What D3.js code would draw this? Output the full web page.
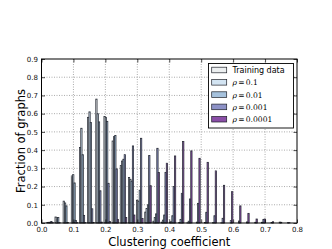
<!DOCTYPE html>
<html>
<head>
<meta charset="utf-8">
<script src="https://cdn.jsdelivr.net/npm/d3@7"></script>
<style>
  html, body { margin: 0; padding: 0; background: #fff; }
  svg { display: block; font-family: "DejaVu Sans", sans-serif; }
</style>
</head>
<body>
<div id="chart"></div>
<script>
// histogram bins (clustering coefficient), one group of five bars per bin
const binStart = -0.0115;
const binWidth = 0.02555;

const seriesNames = ["Training data", "\u03c1 = 0.1", "\u03c1 = 0.01", "\u03c1 = 0.001", "\u03c1 = 0.0001"];
const seriesColors = ["#eceff0", "#d3e4f2", "#a6c2dd", "#8c91c6", "#8a4ea7"];

// fraction of graphs per bin
const training = [0, 0.003, 0.033, 0.12, 0.258, 0.415, 0.58, 0.68, 0.585, 0.45, 0.315, 0.25, 0.125, 0.06, 0.01, 0.005,
                  0.002, 0, 0, 0, 0, 0, 0, 0, 0, 0, 0, 0, 0, 0, 0, 0];
const rho1 = [0, 0.004, 0.028, 0.11, 0.265, 0.52, 0.61, 0.60, 0.58, 0.474, 0.34, 0.24, 0.12, 0.08, 0.03, 0.016,
              0.007, 0.003, 0.001, 0, 0, 0, 0, 0, 0, 0, 0, 0, 0, 0, 0, 0];
const rho2 = [0, 0.004, 0.03, 0.094, 0.22, 0.375, 0.552, 0.555, 0.558, 0.48, 0.35, 0.23, 0.18, 0.1, 0.05, 0.044,
              0.04, 0.02, 0.01, 0.005, 0.003, 0.002, 0.001, 0, 0, 0, 0, 0.004, 0, 0, 0, 0];
const rho3 = [0, 0.008, 0.002, 0.003, 0.014, 0.042, 0.078, 0.177, 0.218, 0.297, 0.375, 0.423, 0.465, 0.37, 0.41, 0.278,
              0.2, 0.163, 0.132, 0.108, 0.059, 0.04, 0.026, 0.013, 0.011, 0.006, 0.004, 0.02, 0.003, 0.005, 0.002, 0];
const rho4 = [0, 0.002, 0, 0, 0.002, 0.002, 0.003, 0.005, 0.008, 0.02, 0.03, 0.044, 0.025, 0.205, 0.277, 0.328,
              0.368, 0.447, 0.396, 0.355, 0.333, 0.286, 0.207, 0.172, 0.094, 0.053, 0.022, 0.022, 0.007, 0.004, 0.002, 0];

const series = [training, rho1, rho2, rho3, rho4];
const xTicks = [0, 0.1, 0.2, 0.3, 0.4, 0.5, 0.6, 0.7, 0.8];
const yTicks = [0, 0.1, 0.2, 0.3, 0.4, 0.5, 0.6, 0.7, 0.8, 0.9];

const W = 332, H = 249;
const plot = { left: 41.5, right: 297, top: 59, bottom: 223 };

const x = d3.scaleLinear().domain([0, 0.8]).range([plot.left, plot.right]);
const y = d3.scaleLinear().domain([0, 0.9]).range([plot.bottom, plot.top]);

const svg = d3.select('#chart').append('svg')
    .attr('width', W)
    .attr('height', H);

// grid
const grid = svg.append('g').attr('class', 'grid');
grid.selectAll('.gx')
    .data(xTicks.slice(1, -1))
    .enter().append('line')
      .attr('x1', d => x(d)).attr('x2', d => x(d))
      .attr('y1', plot.top).attr('y2', plot.bottom)
      .attr('stroke', '#888').attr('stroke-width', 0.7)
      .attr('stroke-dasharray', '1,1.5');
grid.selectAll('.gy')
    .data(yTicks.slice(1, -1))
    .enter().append('line')
      .attr('x1', plot.left).attr('x2', plot.right)
      .attr('y1', d => y(d)).attr('y2', d => y(d))
      .attr('stroke', '#888').attr('stroke-width', 0.7)
      .attr('stroke-dasharray', '1,1.5');

// bars
const groupW = binWidth * 0.8;
const barW = groupW / series.length;
const bars = svg.append('g').attr('class', 'bars');
series.forEach((vals, s) => {
    bars.selectAll('.bar-' + s)
        .data(vals)
        .enter().append('rect')
          .attr('class', 'bar-' + s)
          .attr('x', (d, i) => x(binStart + i * binWidth + 0.1 * binWidth + s * barW))
          .attr('width', x(barW) - x(0))
          .attr('y', d => y(d))
          .attr('height', d => y(0) - y(d))
          .attr('fill', seriesColors[s])
          .attr('stroke', '#262a33')
          .attr('stroke-width', 0.75)
          .style('display', d => d > 0 ? null : 'none');
});

// frame
svg.append('rect')
    .attr('x', plot.left).attr('y', plot.top)
    .attr('width', plot.right - plot.left).attr('height', plot.bottom - plot.top)
    .attr('fill', 'none').attr('stroke', '#000').attr('stroke-width', 1);

// axes, ticks pointing inward
svg.append('g')
    .attr('transform', `translate(0,${plot.bottom})`)
    .call(d3.axisBottom(x).tickValues(xTicks).tickFormat(d3.format('.1f')).tickSizeInner(-3.5).tickSizeOuter(0).tickPadding(4));
svg.append('g')
    .attr('transform', `translate(${plot.left},0)`)
    .call(d3.axisLeft(y).tickValues(yTicks).tickFormat(d3.format('.1f')).tickSizeInner(-3.5).tickSizeOuter(0).tickPadding(3.5));
svg.append('g')
    .attr('transform', `translate(0,${plot.top})`)
    .call(d3.axisTop(x).tickValues(xTicks).tickSizeInner(-3.5).tickSizeOuter(0).tickFormat(''));
svg.append('g')
    .attr('transform', `translate(${plot.right},0)`)
    .call(d3.axisRight(y).tickValues(yTicks).tickSizeInner(-3.5).tickSizeOuter(0).tickFormat(''));

svg.selectAll('.domain').remove();
svg.selectAll('.tick line').attr('stroke', '#000').attr('stroke-width', 0.7);
svg.selectAll('.tick text')
    .attr('font-family', '"DejaVu Sans", sans-serif')
    .attr('font-size', 7)
    .attr('fill', '#111');

// axis labels
svg.append('text')
    .attr('x', (plot.left + plot.right) / 2)
    .attr('y', 245.5)
    .attr('text-anchor', 'middle')
    .attr('font-size', 11.5)
    .text('Clustering coefficient');
svg.append('text')
    .attr('transform', `translate(24.5,${(plot.top + plot.bottom) / 2}) rotate(-90)`)
    .attr('text-anchor', 'middle')
    .attr('font-size', 11.5)
    .text('Fraction of graphs');

// legend
const lg = svg.append('g').attr('class', 'legend');
lg.append('rect')
    .attr('x', 208.5).attr('y', 63.5)
    .attr('width', 85).attr('height', 64.5)
    .attr('fill', '#fff').attr('stroke', '#000').attr('stroke-width', 0.9);
const rows = lg.selectAll('.row')
    .data(seriesNames)
    .enter().append('g')
      .attr('transform', (d, i) => `translate(0,${70 + i * 12.3})`);
rows.append('rect')
    .attr('x', 211.7).attr('y', -2.8)
    .attr('width', 15).attr('height', 5.6)
    .attr('fill', (d, i) => seriesColors[i])
    .attr('stroke', '#1e2128').attr('stroke-width', 0.7);
rows.each(function(d, i) {
    const t = d3.select(this).append('text')
        .attr('x', 232.5).attr('y', 2.9)
        .attr('font-size', i === 0 ? 8 : 7.6);
    if (i === 0) {
        t.text(d);
    } else {
        t.attr('font-family', '"DejaVu Serif", serif');
        t.append('tspan').attr('font-style', 'italic').text(d.slice(0, 1));
        t.append('tspan').attr('dx', 1.2).text('=');
        t.append('tspan').attr('dx', 1.2).text(d.split('= ')[1]);
    }
});
</script>
</body>
</html>
